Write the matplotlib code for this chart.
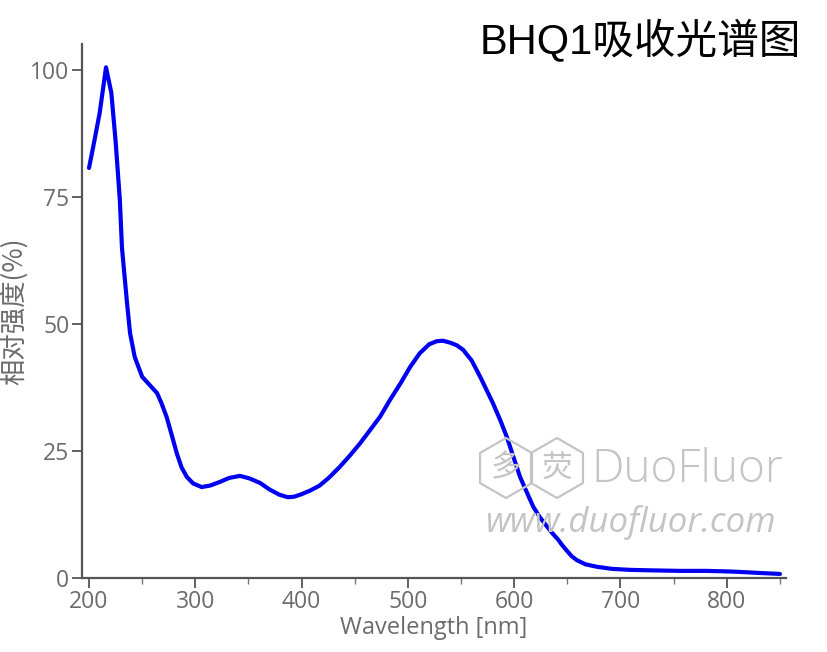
import matplotlib
matplotlib.use("Agg")
import matplotlib.pyplot as plt
from matplotlib.ticker import MultipleLocator
from matplotlib.patches import RegularPolygon

# ---- data ----
wavelength = [200, 205, 210, 216, 221, 225, 229, 231, 235.5, 238.6, 243, 250, 257, 264,
              268, 273, 278, 282.5, 287, 292, 298, 306, 314, 323, 332, 342, 351, 361,
              370, 379, 387, 393, 400, 408, 417, 426, 436, 445, 455, 464, 474, 483,
              493, 502, 511, 520, 527, 533, 540, 546, 552, 560, 568, 574, 580, 587,
              593, 599, 605.5, 612, 618, 624, 631, 636, 641.5, 645, 649, 654, 659,
              667, 678, 692, 709, 730, 756, 781, 800, 812, 830, 840, 850]
intensity = [80.7, 86.0, 91.5, 100.5, 95.5, 86.0, 74.4, 65.0, 54.7, 48.2, 43.5, 39.6, 38.0, 36.4,
             34.5, 31.7, 28.0, 24.6, 21.8, 19.9, 18.6, 17.9, 18.2, 18.9, 19.7, 20.1, 19.6, 18.7,
             17.4, 16.4, 15.9, 16.0, 16.5, 17.2, 18.2, 19.8, 21.9, 24.0, 26.5, 29.0, 31.8, 35.0,
             38.3, 41.5, 44.2, 46.0, 46.6, 46.7, 46.3, 45.8, 44.9, 42.8, 39.6, 37.0, 34.4, 31.0,
             27.8, 24.0, 19.9, 16.8, 14.0, 12.0, 10.1, 8.8, 7.5, 6.5, 5.5, 4.3, 3.5,
             2.7, 2.2, 1.8, 1.6, 1.5, 1.4, 1.4, 1.3, 1.2, 1.0, 0.9, 0.8]

x_ticks = [200, 300, 400, 500, 600, 700, 800]
y_ticks = [0, 25, 50, 75, 100]

title_text = "BHQ1吸收光谱图"
x_label = "Wavelength [nm]"
y_label = "相对强度(%)"

W, H = 828, 652
fig = plt.figure(figsize=(W / 100, H / 100), dpi=100)
ax = fig.add_axes([82 / W, 1 - 578 / H, (786 - 82) / W, (578 - 44) / H])

grey = "#6b6b6b"
ax.plot(wavelength, intensity, color="#0000f0", lw=3.0, solid_joinstyle="round",
        solid_capstyle="round", zorder=5)

ax.set_xlim(193.4, 855.7)
ax.set_ylim(0, 105.1)
ax.set_xticks(x_ticks)
ax.xaxis.set_minor_locator(MultipleLocator(50))
ax.set_yticks(y_ticks)

for s in ["top", "right"]:
    ax.spines[s].set_visible(False)
for s in ["left", "bottom"]:
    ax.spines[s].set_color("#555555")
    ax.spines[s].set_linewidth(1.6)

ax.tick_params(axis="both", which="major", direction="out", length=7, width=1.3,
               color="#555555", labelcolor=grey, labelsize=16.5, pad=2)
ax.tick_params(axis="x", which="minor", direction="out", length=4, width=1.0, color="#777777")
for lab in ax.get_xticklabels() + ax.get_yticklabels():
    lab.set_family(["Open Sans", "DejaVu Sans"])

ax.set_xlabel(x_label, fontsize=17, color=grey, family=["Open Sans", "DejaVu Sans"],
              labelpad=1)
ax.set_ylabel(y_label, fontsize=19, color=grey, family=["Noto Sans CJK SC", "DejaVu Sans"],
              labelpad=2)

fig.text(801 / W, 1 - 42 / H, title_text, ha="right", va="center", fontsize=30,
         color="black", family=["Liberation Sans", "Noto Sans CJK SC"])

# watermark
wm = "#c4c4c4"
for cx, ch in [(506, "多"), (557, "荧")]:
    fig.patches.append(RegularPolygon((cx, H - 468), numVertices=6, radius=30,
                                      orientation=0, fill=False, edgecolor=wm, lw=1.6,
                                      transform=None, zorder=1))
    fig.text(cx / W, 1 - 468 / H, ch, ha="center", va="center", fontsize=22, color=wm,
             family=["Noto Sans CJK SC"], zorder=1)
fig.text(687 / W, 1 - 470 / H, "DuoFluor", ha="center", va="center", fontsize=33, color=wm,
         family=["Open Sans"], fontweight="light", zorder=1)
fig.text(630 / W, 1 - 522 / H, "www.duofluor.com", ha="center", va="center", fontsize=25,
         color=wm, family=["Open Sans"], style="italic", zorder=1)

fig.savefig("out.png", dpi=100)
